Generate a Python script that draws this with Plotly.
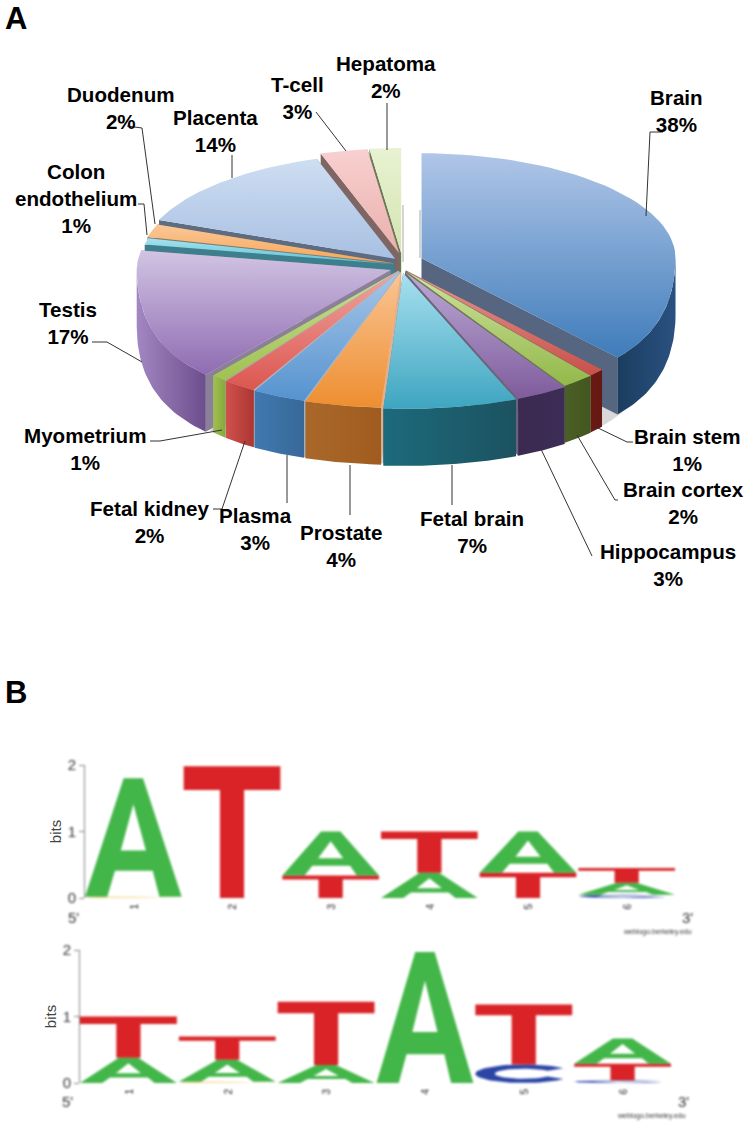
import numpy as np
import plotly.graph_objects as go

# pie data
tissues = ['Brain', 'Brain stem', 'Brain cortex', 'Hippocampus', 'Fetal brain', 'Prostate', 'Plasma',
           'Fetal kidney', 'Myometrium', 'Testis', 'Colon<br>endothelium', 'Duodenum', 'Placenta', 'T-cell',
           'Hepatoma']
shares = [38, 1, 2, 3, 7, 4, 3, 2, 1, 17, 1, 2, 14, 3, 2]

# sequence logos, bits per position
logo1_A = [1.78, 0, 0.66, 0.38, 0.62, 0.18]
logo1_T = [0, 1.98, 0.34, 0.62, 0.38, 0.22]
logo1_C = [0, 0, 0, 0, 0, 0.05]
logo1_G = [0.02, 0, 0, 0, 0, 0]
logo2_A = [0.38, 0.33, 0.27, 1.97, 0, 0.38]
logo2_T = [0.62, 0.35, 0.95, 0, 0.9, 0.25]
logo2_C = [0, 0, 0, 0, 0.28, 0.04]
logo2_G = [0, 0.02, 0, 0, 0, 0]
positions = [1, 2, 3, 4, 5, 6]
bit_ticks = [0, 1, 2]

# top colour, bottom colour, wall left, wall right, cut face
slice_colors = [
    ('#b0c6e8', '#3f7cba', '#1b3d60', '#2a5180', '#566580'),
    ('#e39a94', '#c9504a', '#6b1a15', '#651812', '#8d5f60'),
    ('#cfe3a0', '#93b84a', '#4a5f26', '#44561f', '#70784f'),
    ('#bcaad6', '#7f5c9c', '#3a2a50', '#3d2c55', '#6b6478'),
    ('#a8e0f0', '#3ea5c0', '#1c6a7c', '#1c5260', '#6c7a85'),
    ('#f9c595', '#ee8e30', '#a9682a', '#a05c1f', '#e0b090'),
    ('#a8c6e8', '#5593cf', '#4079b0', '#386898', '#9ab8d8'),
    ('#f0a5a0', '#dc5650', '#d0514c', '#ac3632', '#bdb0b0'),
    ('#c9df94', '#9fc24f', '#a0bf52', '#86a83a', '#a8a8a8'),
    ('#d2c4e3', '#8f6cb2', '#a287c2', '#6c4e8c', '#8a8098'),
    ('#a8e2ee', '#5cc0d6', '#3e7f8e', '#3e7f8e', '#3e7f8e'),
    ('#fbc796', '#f5a75a', '#c08040', '#c08040', '#8a7a68'),
    ('#cedef2', '#a8c0e2', '#5d6c80', '#5d6c80', '#5d6c80'),
    ('#f8d0d0', '#e9b0ac', '#7f6664', '#7f6664', '#7f6664'),
    ('#e8f2d2', '#d4e4b0', '#6b7a55', '#6b7a55', '#6b7a55'),
]
explode = [21, 6, 6, 7, 7, 6, 6, 6, 6, 12, 8, 9, 10, 13, 13]
hub = (402, 266)
rx, ry_back, ry_front, depth, persp = 254, 105, 136, 57, 0.24


def project(theta, r=1.0):
    # the front of the pie is nearer, so it is drawn wider and deeper
    s, c = np.sin(theta), np.cos(theta)
    wide = 1 + persp * (c * c if c < 0 else 0)
    y = -c * r * (ry_back if c > 0 else ry_front)
    return s * r * rx * wide, y


fig = go.Figure()

# soft shadow under the pie and inside the gap behind Brain
t = np.linspace(np.pi / 2, 3 * np.pi / 2, 80)
sh = np.array([project(a, 1.02) for a in t])
fig.add_trace(go.Scatter(x=hub[0] + sh[:, 0], y=hub[1] + sh[:, 1] + depth + 2, mode='lines', fill='toself',
                         line=dict(width=0), fillcolor='#d8d8d8'))
for gx, gy0, gy1 in [(403, 205, 262), (420, 210, 258)]:
    fig.add_trace(go.Scatter(x=[gx, gx], y=[gy0, gy1], mode='lines', line=dict(color='#d4d4d4', width=2)))

edges = np.cumsum([0] + shares) / 100 * 2 * np.pi
mids = (edges[:-1] + edges[1:]) / 2
for i in sorted(range(len(shares)), key=lambda k: -np.cos(mids[k])):
    a0, a1, m = edges[i], edges[i + 1], mids[i]
    top, bot, wl, wr, cut = slice_colors[i]
    ox = hub[0] + explode[i] * np.sin(m)
    oy = hub[1] - explode[i] * np.cos(m)
    # cut faces
    for a in (a0, a1):
        px, py = project(a)
        fig.add_trace(go.Scatter(x=[ox, ox + px, ox + px, ox], y=[oy, oy + py, oy + py + depth, oy + depth],
                                 mode='lines', fill='toself', line=dict(width=0), fillcolor=cut))
    # outer wall, front half only
    lo, hi = max(a0, np.pi / 2), min(a1, 3 * np.pi / 2)
    if hi > lo:
        arc = np.array([project(a) for a in np.linspace(lo, hi, 40)])
        wx = np.r_[ox + arc[:, 0], (ox + arc[:, 0])[::-1]]
        wy = np.r_[oy + arc[:, 1], (oy + arc[:, 1] + depth)[::-1]]
        fig.add_trace(go.Scatter(x=wx, y=wy, mode='lines', line=dict(width=0), fill='toself',
                                 fillgradient=dict(type='horizontal', colorscale=[[0, wl], [1, wr]])))
    # top face
    arc = np.array([project(a) for a in np.linspace(a0, a1, 60)])
    fig.add_trace(go.Scatter(x=np.r_[ox, ox + arc[:, 0]], y=np.r_[oy, oy + arc[:, 1]], mode='lines',
                             line=dict(width=0), fill='toself',
                             fillgradient=dict(type='vertical', colorscale=[[0, bot], [1, top]])))

# leader lines and labels of the pie, in page pixels
leaders = [
    [(646, 216), (650, 132), (663, 132)], [(387, 150), (387, 103)], [(346, 151), (316, 112)],
    [(232, 178), (232, 155)], [(155, 224), (142, 128), (127, 126)], [(147, 235), (144, 204), (138, 204)],
    [(142, 362), (107, 342), (92, 342)], [(222, 430), (160, 441), (150, 441)], [(245, 441), (222, 509), (213, 509)],
    [(287, 455), (287, 503)], [(350, 465), (350, 515)], [(452, 465), (452, 505)], [(540, 447), (592, 556)],
    [(577, 435), (615, 500), (618, 500)], [(596, 427), (627, 442), (633, 442)],
]
for path in leaders:
    fig.add_trace(go.Scatter(x=[p[0] for p in path], y=[p[1] for p in path], mode='lines',
                             line=dict(color='#333333', width=1)))

label_pos = {'Brain': (676, 111), 'Hepatoma': (386, 77), 'T-cell': (297, 98), 'Placenta': (215, 131),
             'Duodenum': (121, 108), 'Colon<br>endothelium': (76, 198), 'Testis': (68, 323), 'Myometrium': (85, 449),
             'Fetal kidney': (150, 522), 'Plasma': (255, 529), 'Prostate': (341, 546), 'Fetal brain': (472, 532),
             'Hippocampus': (668, 565), 'Brain cortex': (683, 503), 'Brain stem': (687, 450)}
annotations = []
for name, share in zip(tissues, shares):
    lx, ly = label_pos[name]
    annotations.append(dict(x=lx, y=ly, xref='x', yref='y', text=f'<b>{name}<br>{share}%</b>', showarrow=False,
                            font=dict(size=20.6, color='black', family='Liberation Sans')))
for txt, lx, ly in [('A', 16, 18), ('B', 16, 692)]:
    annotations.append(dict(x=lx, y=ly, xref='x', yref='y', text=f'<b>{txt}</b>', showarrow=False,
                            font=dict(size=31, color='black', family='Liberation Sans')))
for txt, lx, ly, sz in [("5'", 73, 917, 15), ("3'", 687, 917, 15), ('weblogo.berkeley.edu', 657, 932, 7),
                        ("5'", 67, 1101, 15), ("3'", 683, 1101, 15), ('weblogo.berkeley.edu', 651, 1116, 7)]:
    annotations.append(dict(x=lx, y=ly, xref='x', yref='y', text=txt, showarrow=False,
                            font=dict(size=sz, color='#333333', family='Liberation Sans')))

# letter outlines on a unit box
a_outer = [(0, 0), (0.23, 0), (0.31, 0.22), (0.70, 0.22), (0.77, 0), (1, 0), (0.60, 1), (0.40, 1), (0, 0)]
a_hole = [(0.37, 0.39), (0.50, 0.78), (0.63, 0.39), (0.37, 0.39)]
t_shape = [(0.375, 0), (0.625, 0), (0.625, 0.82), (1, 0.82), (1, 1), (0, 1), (0, 0.82), (0.375, 0.82), (0.375, 0)]
ang = np.linspace(np.radians(35), np.radians(325), 50)
c_shape = list(zip(0.5 + 0.5 * np.cos(ang), 0.5 + 0.5 * np.sin(ang))) + \
    list(zip(0.5 + 0.3 * np.cos(ang[::-1]), 0.5 + 0.27 * np.sin(ang[::-1])))
c_shape.append(c_shape[0])
glyphs = {'A': [a_outer, a_hole], 'T': [t_shape], 'C': [c_shape], 'G': [c_shape]}
letter_colors = {'A': '#43b649', 'T': '#d92327', 'C': '#2b45a5', 'G': '#f3c04a'}


def add_logo(heights, xa, ya):
    for i, pos in enumerate(positions):
        stack = sorted([(h[i], k) for k, h in heights.items() if h[i] > 0])
        base = 0
        for h, k in stack:
            xs, ys = [], []
            for part in glyphs[k]:
                xs += [pos - 0.5 + p[0] * 0.98 for p in part] + [None]
                ys += [base + p[1] * h for p in part] + [None]
            fig.add_trace(go.Scatter(x=xs, y=ys, mode='lines', fill='toself', fillcolor=letter_colors[k],
                                     line=dict(width=0), xaxis=xa, yaxis=ya))
            base += h


add_logo({'A': logo1_A, 'T': logo1_T, 'C': logo1_C, 'G': logo1_G}, 'x2', 'y2')
add_logo({'A': logo2_A, 'T': logo2_T, 'C': logo2_C, 'G': logo2_G}, 'x3', 'y3')

W, H = 749, 1129


def logo_axes(x0, x1, y2, y0):
    xa = dict(domain=[x0 / W, x1 / W], range=[0.5, 6.5], tickmode='array', tickvals=positions, tickangle=-90,
              showgrid=False, zeroline=False, showline=False, ticks='', ticklen=0, automargin=False,
              ticklabelstandoff=3, tickfont=dict(size=10, color='#222222', family='Liberation Sans'))
    ya = dict(domain=[1 - y0 / H, 1 - y2 / H], range=[0, 2], tickmode='array', tickvals=bit_ticks, showgrid=False,
              zeroline=False, showline=True, linecolor='#888888', linewidth=1, ticks='outside', ticklen=5,
              tickcolor='#888888', tickfont=dict(size=15, color='#333333', family='Liberation Sans'),
              automargin=False,
              title=dict(text='bits', font=dict(size=15, color='#444444', family='Liberation Sans'), standoff=2))
    return xa, ya


x2, y2 = logo_axes(85, 677, 765, 898)
x3, y3 = logo_axes(80, 673, 950, 1083)
x2['anchor'], y2['anchor'] = 'y2', 'x2'
x3['anchor'], y3['anchor'] = 'y3', 'x3'

fig.update_traces(hoverinfo='skip', showlegend=False)
fig.update_layout(
    width=W, height=H, margin=dict(l=0, r=0, t=0, b=0), paper_bgcolor='white', plot_bgcolor='rgba(0,0,0,0)',
    showlegend=False, annotations=annotations,
    xaxis=dict(range=[0, W], domain=[0, 1], visible=False, automargin=False),
    yaxis=dict(range=[H, 0], domain=[0, 1], visible=False, automargin=False),
    xaxis2=x2, yaxis2=y2, xaxis3=x3, yaxis3=y3,
)

# the source is a soft, upscaled bitmap
soften = """
document.body.style.margin = '0';
document.querySelectorAll('.subplot.x2y2, .subplot.x3y3').forEach(function (g) {
    g.style.filter = 'blur(1.1px)';
});
document.querySelectorAll('.subplot.xy').forEach(function (g) { g.style.filter = 'blur(0.4px)'; });
document.querySelectorAll('.annotation').forEach(function (g) {
    var s = g.textContent;
    if (s === "5'" || s === "3'" || s.indexOf('weblogo') === 0) { g.style.filter = 'blur(0.8px)'; }
});
"""
fig.write_html("out.html", config=dict(displayModeBar=False), post_script=soften)
